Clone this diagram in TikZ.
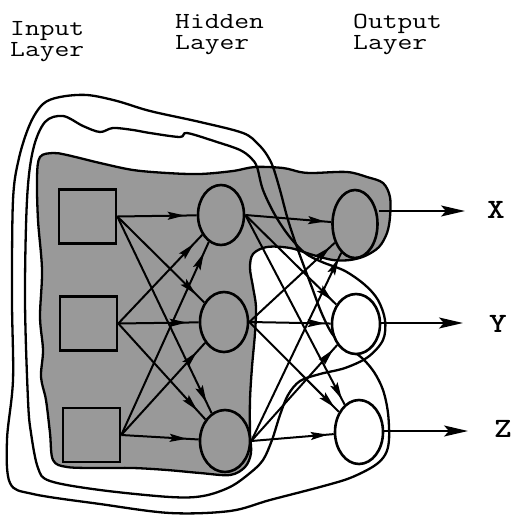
\documentclass[tikz,border=0pt]{standalone}
\usepackage{graphicx}
\usetikzlibrary{shapes.geometric,arrows.meta,decorations.markings}
\begin{document}
\begin{tikzpicture}[x=1pt,y=-1pt,
  grayfill/.style={fill=black!40},
  contour/.style={line width=2.3pt, line join=round},
  sq/.style={draw, line width=2.6pt, grayfill, minimum width=57pt, minimum height=54pt, inner sep=0},
  nd/.style={draw, ellipse, line width=2.6pt, inner sep=0},
  link/.style={line width=2pt, postaction={decorate}, decoration={markings, mark=at position #1 with {\arrow{Stealth[length=17pt,width=8pt,inset=3pt]}}}},
  outarr/.style={line width=1.8pt, -{Stealth[length=24pt,width=11pt,inset=5pt]}},
  head/.style={font=\ttfamily\fontsize{23}{21}\selectfont, align=left, inner sep=0, anchor=north west},
  lab/.style={font=\ttfamily\bfseries\fontsize{28}{28}\selectfont, inner sep=0}
]
\useasboundingbox (0,0) rectangle (512,516);

% headings
\node[head] (tin) at (10,21) {\scalebox{1.25}[1]{Input}\\\scalebox{1.25}[1]{Layer}};
\node[head] (thid) at (175,14) {\scalebox{1.25}[1]{Hidden}\\\scalebox{1.25}[1]{Layer}};
\node[head] (tout) at (353,14) {\scalebox{1.25}[1]{Output}\\\scalebox{1.25}[1]{Layer}};

% shaded region (X)
\draw[contour, grayfill] plot[smooth cycle, tension=0.55] coordinates {
 (40,157) (53,153) (67,155) (100,163) (133,170) (167,173) (200,174) (233,171)
 (255,167) (283,168) (300,172) (313,173) (347,172) (367,177) (383,183) (390,197)
 (390,217) (387,233) (379,247) (365,256) (350,260) (333,260) (313,255) (290,248)
 (267,247) (253,254) (250,268) (253,287) (256,307) (255,333) (252,367) (250,400)
 (250,433) (251,453) (245,467) (230,475) (200,473) (167,470) (133,468) (100,468)
 (67,467) (53,460) (50,433) (46,400) (41,377) (43,350) (40,317) (42,270) (38,220) (37,177)};

% contour Y
\draw[contour] plot[smooth cycle, tension=0.55] coordinates {
 (257,167) (263,190) (275,215) (289,236) (305,253) (322,262) (345,271) (365,285)
 (378,300) (385,320) (383,340) (368,357) (345,368) (320,374) (300,381) (288,395)
 (280,415) (272,440) (263,460) (250,473) (230,487) (203,496) (170,497) (100,490)
 (50,481) (38,468) (31,433) (28,400) (25,300) (27,200) (33,150) (45,122) (63,116)
 (83,126) (100,132) (113,128) (133,130) (150,133) (180,137) (187,133) (217,142)
 (240,150) (251,158)};

% contour Z
\draw[contour] plot[smooth cycle, tension=0.55] coordinates {
 (273,167) (280,190) (288,220) (298,250) (311,285) (322,314) (333,335) (347,347)
 (362,358) (374,372) (383,390) (388,413) (389,440) (385,455) (374,466) (350,478)
 (320,487) (270,500) (230,511) (170,513) (100,504) (33,494) (10,483) (7,440)
 (13,380) (12,300) (13,200) (19,158) (30,124) (43,104) (60,97) (87,95) (117,101)
 (150,111) (200,122) (243,133) (258,144) (267,155)};

% input nodes
\node[sq] (S1) at (87.5,216.5) {};
\node[sq] (S2) at (88.5,323.5) {};
\node[sq] (S3) at (91.5,435) {};

% hidden nodes
\node[nd, grayfill, minimum width=46pt, minimum height=60pt] (H1) at (221,215) {};
\node[nd, grayfill, minimum width=48pt, minimum height=60pt] (H2) at (224,322) {};
\node[nd, grayfill, minimum width=50pt, minimum height=62pt] (H3) at (225,441) {};

% output nodes
\node[nd, grayfill, minimum width=45pt, minimum height=68pt] (O1) at (355,224) {};
\node[nd, fill=white, minimum width=48pt, minimum height=60pt] (O2) at (356,324) {};
\node[nd, fill=white, minimum width=48pt, minimum height=64pt] (O3) at (359,432) {};

% input -> hidden
\foreach \s in {S1,S2,S3}{
  \foreach \h in {H1,H2,H3}{
    \draw[link=-12pt] (\s.east) -- (\h);
  }
}
% hidden -> output
\foreach \h in {H1,H2,H3}{
  \foreach \o in {O1,O2,O3}{
    \draw[link=-6pt] (\h.east) -- (\o);
  }
}

% outputs
\coordinate (xa) at (465,211);
\coordinate (ya) at (463,323);
\coordinate (za) at (468,431);
\draw[outarr] (O1.east |- xa) -- (xa);
\draw[outarr] (O2.east |- ya) -- (ya);
\draw[outarr] (O3.east |- za) -- (za);
\node[lab] (lx) at (496,210) {\scalebox{1.2}[1]{X}};
\node[lab] (ly) at (498,324) {\scalebox{1.2}[1]{Y}};
\node[lab] (lz) at (503,429) {\scalebox{1.2}[1]{Z}};
\end{tikzpicture}
\end{document}
